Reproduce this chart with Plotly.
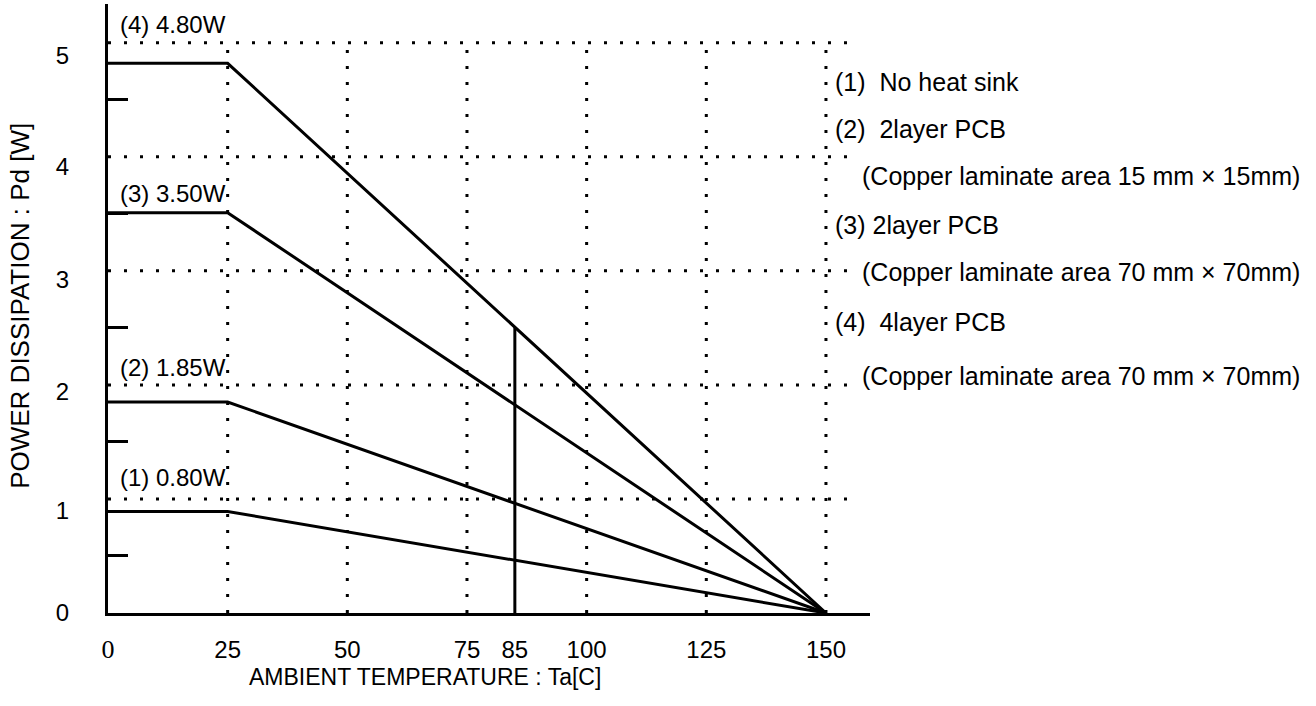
import numpy as np
import plotly.graph_objects as go

# derating curves: flat up to 25 C, then linear down to 0 W at 150 C
temp_pts = [0, 25, 150]
curve_names = ["(1) 0.80W", "(2) 1.85W", "(3) 3.50W", "(4) 4.80W"]
plateau_w = [0.89, 1.85, 3.51, 4.82]   # as drawn in the picture
label_y = [1.19, 2.15, 3.68, 5.16]

vline_temp = 85

# grid
grid_x = [25, 50, 75, 100, 125, 150]
grid_y = [1, 2, 3, 4, 5]

# axis ticks
x_tickvals = [0, 25, 50, 75, 85, 100, 125, 150]
x_ticktext = ['<span style="font-family:Liberation Serif;font-size:26px">0</span>',
              "25", "50", "75", "85", "100", "125", "150"]
y_ticktext = ["0", "1", "2", "3", "4", "5"]
y_tickpos = [0, 0.90, 1.94, 2.92, 3.91, 4.89]   # where the labels sit in the picture
y_minor = [0.5, 1.5, 2.5, 3.5, 4.5]

# notes on the right
notes = [
    ("(1)  No heat sink", 151.5, 4.66),
    ("(2)  2layer PCB", 151.5, 4.24),
    ("(Copper laminate area 15 mm × 15mm)", 157.2, 3.83),
    ("(3) 2layer PCB", 151.5, 3.40),
    ("(Copper laminate area 70 mm × 70mm)", 157.2, 2.99),
    ("(4)  4layer PCB", 151.5, 2.55),
    ("(Copper laminate area 70 mm × 70mm)", 157.2, 2.08),
]

FONT = "Liberation Sans"
FS = 24
DOT = "3px,13px"

fig = go.Figure()

for gx in grid_x:
    fig.add_trace(go.Scatter(x=[gx, gx], y=[0, 5], mode="lines",
                             line=dict(color="black", width=3, dash=DOT),
                             hoverinfo="skip", showlegend=False))
for gy in grid_y:
    fig.add_trace(go.Scatter(x=[0, 156.5], y=[gy, gy], mode="lines",
                             line=dict(color="black", width=3, dash=DOT),
                             hoverinfo="skip", showlegend=False))

for name, p in zip(curve_names, plateau_w):
    fig.add_trace(go.Scatter(x=temp_pts, y=[p, p, 0], mode="lines", name=name,
                             line=dict(color="black", width=3), showlegend=False))

top_at_85 = float(np.interp(vline_temp, temp_pts, [plateau_w[3], plateau_w[3], 0]))
fig.add_trace(go.Scatter(x=[vline_temp, vline_temp], y=[0, top_at_85], mode="lines",
                         line=dict(color="black", width=3), showlegend=False))

for name, ly in zip(curve_names, label_y):
    fig.add_annotation(x=2, y=ly, text=name, showarrow=False, xanchor="left",
                       font=dict(family=FONT, size=FS, color="black"))

for txt, nx, ny in notes:
    fig.add_annotation(x=nx, y=ny, text=txt, showarrow=False, xanchor="left",
                       font=dict(family=FONT, size=25, color="black"))

fig.add_annotation(x=0.416, y=-0.13, xref="paper", yref="paper", xanchor="center",
                   text="AMBIENT TEMPERATURE : Ta[C]", showarrow=False,
                   font=dict(family=FONT, size=23, color="black"))
fig.add_annotation(x=-0.115, y=0.505, xref="paper", yref="paper", textangle=-90,
                   xanchor="center", yanchor="middle",
                   text="POWER DISSIPATION : Pd [W]", showarrow=False,
                   font=dict(family=FONT, size=26, color="black"))

fig.update_xaxes(range=[0, 159.2], showline=True, linewidth=3, linecolor="black",
                 showgrid=False, zeroline=False, tickmode="array",
                 tickvals=x_tickvals, ticktext=x_ticktext, ticks="",
                 ticklabelstandoff=13,
                 tickfont=dict(family=FONT, size=FS, color="black"))
fig.update_yaxes(range=[0, 5.34], showline=True, linewidth=3, linecolor="black",
                 showgrid=False, zeroline=False, tickmode="array",
                 tickvals=y_tickpos, ticktext=y_ticktext, ticks="",
                 ticklabelstandoff=31,
                 tickfont=dict(family=FONT, size=FS, color="black"),
                 minor=dict(tickvals=y_minor, ticks="inside", ticklen=20,
                            tickwidth=3, tickcolor="black"))

fig.update_layout(width=1316, height=706, plot_bgcolor="white", paper_bgcolor="white",
                  margin=dict(l=108, r=446, t=4, b=93), showlegend=False)

# drop the browser's default page margin so the figure sits at 0,0
fig.write_html("out.html", config={"displayModeBar": False},
               post_script="document.body.style.margin='0px';")
